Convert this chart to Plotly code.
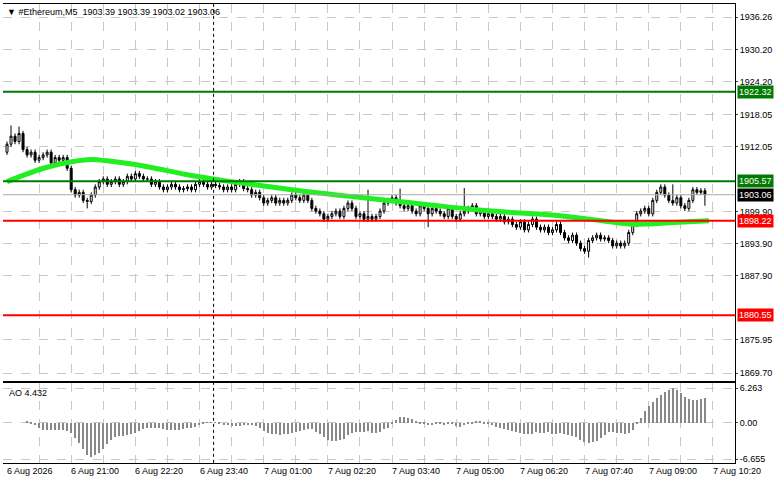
import plotly.graph_objects as go
import pandas as pd

closes = [1912.5,1914,1913,1914.5,1911.5,
 1910.5,1911,1909.5,1910,1910.5,1911,1909,1910,1909.5,1910,
 1908,1904,1903,1903.5,1902,1901.8,1903,1904.5,1905.5,1906,
 1905,1905.5,1906,1905,1905.5,1906.5,1906,1907,1906.5,1906,
 1906,1905,1905.5,1904.5,1904,1904.5,1905,1904.5,1904,1904.2,
 1904.5,1904,1905,1905.5,1905,1904.5,1905,1904.8,1904.5,1904,
 1904.5,1904,1905,1905.5,1904.2,1904,1903,1903.5,1902.5,1901.5,
 1902,1902.5,1901.5,1902,1901.5,1902,1903,1902.5,1902,1903,
 1902,1900.5,1900,1899.5,1898.5,1899,1899.5,1900,1899,1900.5,
 1901.5,1900.5,1899,1899.5,1898.5,1899,1898.5,1899,1900,1901.5,
 1902,1902.5,1901.5,1901,1900.5,1901,1900,1899.5,1901,1900.5,
 1899.5,1900.5,1900,1899.5,1899,1900.5,1899,1898.5,1899.5,1900,
 1900.5,1901,1899.5,1900,1899,1899.5,1899,1898.5,1899,1898,
 1898.5,1897.5,1897,1898,1896.5,1897.5,1898.5,1897,1896.5,1897,
 1896,1896.5,1897.5,1896,1895,1894.5,1895.5,1894,1893,1892.5,
 1894.5,1895,1895.5,1894.8,1895,1894.5,1893.5,1894,1893.5,1894,
 1896,1897.5,1899.5,1900,1900.5,1899.5,1902,1903.5,1904.5,1903,
 1902,1901.5,1902.5,1901,1900.5,1902,1904,1903.5,1903.8,1903.06]
first_open = 1911.0
spikes_high = {1: 1916.0, 3: 1915.8, 90: 1904.0, 98: 1904.2, 114: 1904.3, 166: 1905.0}
spikes_low = {20: 1900.5, 105: 1897.0, 145: 1891.3, 174: 1901.0}
ma_idx = [0,10,20,25,35,45,55,65,75,85,95,105,115,125,135,145,155,160,165,175]
ma_vals = [1905.5,1908.2,1909.6,1909.4,1908.3,1906.8,1905.6,1904.6,1903.6,1902.8,1902.0,1901.2,1900.4,1899.8,1899.3,1898.5,1897.6,1897.6,1897.8,1898.2]
levels = [(1922.32,'#007a00'),(1905.57,'#007a00'),(1898.22,'#ff0000'),(1880.55,'#ff0000')]
ytick_vals = [1936.26,1930.20,1924.20,1918.05,1912.05,1899.90,1893.90,1887.90,1875.95,1869.70]
xtick_labels = ['6 Aug 2026','6 Aug 21:00','6 Aug 22:20','6 Aug 23:40','7 Aug 01:00','7 Aug 02:20',
                '7 Aug 03:40','7 Aug 05:00','7 Aug 06:20','7 Aug 07:40','7 Aug 09:00','7 Aug 10:20']
xtick_idx = [0,16,32,48,64,80,96,112,128,144,160,176]
grid_idx = list(range(8, 184, 8))

n = len(closes)
opens = [first_open] + closes[:-1]
highs = [max(o, c) + 0.5 for o, c in zip(opens, closes)]
lows = [min(o, c) - 0.5 for o, c in zip(opens, closes)]
for k, v in spikes_high.items(): highs[k] = v
for k, v in spikes_low.items(): lows[k] = v
x = list(range(n))

med = (pd.Series(highs) + pd.Series(lows)) / 2
ao = (med.rolling(5, min_periods=1).mean() - med.rolling(34, min_periods=1).mean())

fig = go.Figure()
fig.add_trace(go.Candlestick(x=x, open=opens, high=highs, low=lows, close=closes,
    increasing=dict(line=dict(color='black', width=1), fillcolor='white'),
    decreasing=dict(line=dict(color='black', width=1), fillcolor='black'),
    whiskerwidth=0, xaxis='x', yaxis='y', showlegend=False))
fig.add_trace(go.Scatter(x=ma_idx, y=ma_vals, mode='lines', line=dict(color='#22ee22', width=5, shape='spline'),
    xaxis='x', yaxis='y', showlegend=False))
fig.add_trace(go.Bar(x=x, y=ao, marker=dict(color='#888888', line=dict(width=0)), width=0.3,
    xaxis='x2', yaxis='y2', showlegend=False))

shapes = []
for v, c in levels:
    shapes.append(dict(type='line', xref='x', yref='y', x0=-2, x1=n + 10, y0=v, y1=v, line=dict(color=c, width=2)))
shapes.append(dict(type='line', xref='x', yref='y', x0=-2, x1=n + 10, y0=1903.06, y1=1903.06, line=dict(color='#aaaaaa', width=1)))
shapes.append(dict(type='line', xref='x', yref='paper', x0=51.5, x1=51.5, y0=0.05, y1=1, line=dict(color='black', width=1, dash='dot')))
fig.update_layout(shapes=shapes)

ann = [dict(xref='paper', yref='paper', x=0.003, y=0.998, xanchor='left', yanchor='top', showarrow=False,
            text='▼ #Ethereum,M5  1903.39 1903.39 1903.02 1903.06', font=dict(size=9, color='black')),
       dict(xref='paper', yref='paper', x=0.005, y=0.21, xanchor='left', yanchor='top', showarrow=False,
            text='AO 4.432', font=dict(size=9, color='black'))]
for v, c in levels + [(1903.06, 'black')]:
    ann.append(dict(xref='paper', yref='y', x=1.003, y=v, xanchor='left', yanchor='middle', showarrow=False,
                    text=f'{v:.2f}', bgcolor=c, font=dict(size=9, color='white'), borderpad=1))
for i, t in zip(xtick_idx, xtick_labels):
    ann.append(dict(xref='x2', yref='paper', x=i, y=0.047, xanchor='left', yanchor='top', showarrow=False,
                    text=t, font=dict(size=9, color='black'), xshift=-2))
fig.update_layout(annotations=ann)

xr = [-1, n + 6.5]
fig.update_layout(
    width=781, height=489, margin=dict(l=3, r=46, t=4, b=0),
    paper_bgcolor='white', plot_bgcolor='white', font=dict(family='Liberation Sans', size=9, color='black'),
    xaxis=dict(domain=[0, 1], range=xr, anchor='y', showticklabels=False, rangeslider=dict(visible=False),
               tickvals=grid_idx, showgrid=True, gridcolor='#c8c8c8', griddash='dash', zeroline=False,
               showline=True, linecolor='black', mirror=True),
    yaxis=dict(domain=[0.22, 1], range=[1868.3, 1938.7], side='right', tickvals=ytick_vals,
               ticktext=[f'{v:.2f}' for v in ytick_vals], showgrid=True, gridcolor='#c8c8c8', griddash='dash',
               zeroline=False, showline=True, linecolor='black', ticks='outside', ticklen=2),
    xaxis2=dict(domain=[0, 1], range=xr, anchor='y2', tickvals=grid_idx, showticklabels=False,
                showgrid=True, gridcolor='#c8c8c8', griddash='dash', zeroline=False,
                showline=True, linecolor='black', mirror=True),
    yaxis2=dict(domain=[0.05, 0.215], range=[-7.3, 7.2], side='right', tickvals=[6.263, 0, -6.655],
                ticktext=['6.263', '0.00', '-6.655'], showgrid=True, gridcolor='#c8c8c8', griddash='dash',
                zeroline=False, showline=True, linecolor='black', ticks='outside', ticklen=2),
    bargap=0,
)
fig.write_html('out.html', config={'displayModeBar': False},
               post_script="document.body.style.margin='0';document.body.style.overflow='hidden';")
